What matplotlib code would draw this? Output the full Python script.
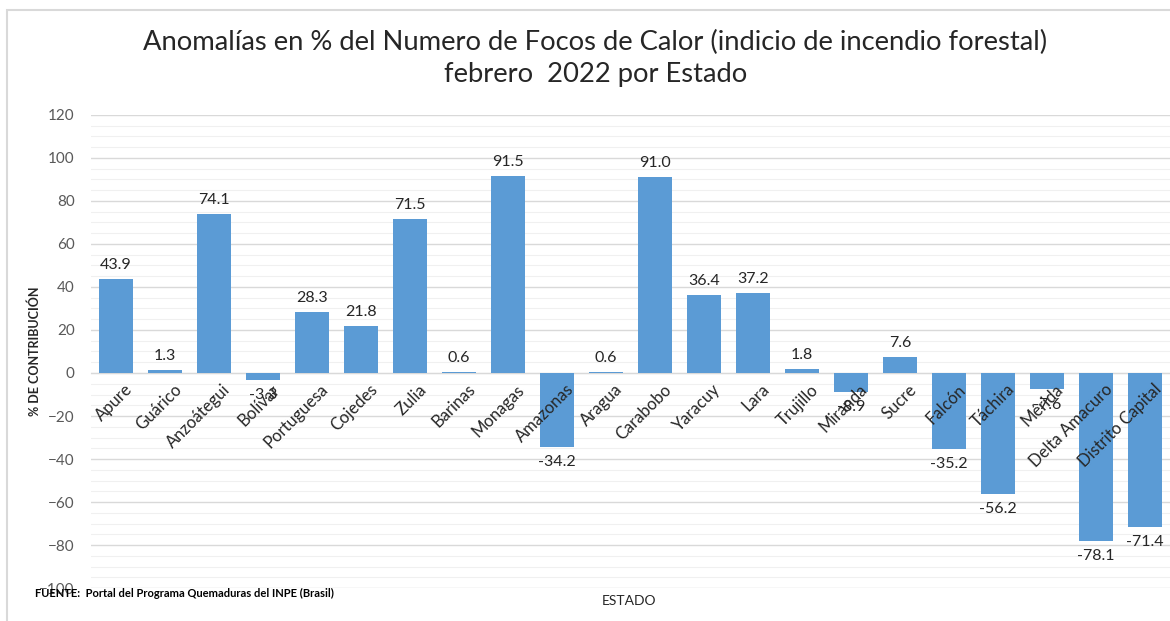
import matplotlib.pyplot as plt
from matplotlib.patches import Rectangle
from matplotlib.ticker import MultipleLocator

# Estados y anomalías (%) de focos de calor, febrero 2022
estados = ["Apure", "Guárico", "Anzoátegui", "Bolívar", "Portuguesa", "Cojedes",
           "Zulia", "Barinas", "Monagas", "Amazonas", "Aragua", "Carabobo",
           "Yaracuy", "Lara", "Trujillo", "Miranda", "Sucre", "Falcón",
           "Táchira", "Mérida", "Delta Amacuro", "Distrito Capital"]
anomalias = [43.9, 1.3, 74.1, -3.3, 28.3, 21.8, 71.5, 0.6, 91.5, -34.2, 0.6, 91.0,
             36.4, 37.2, 1.8, -8.9, 7.6, -35.2, -56.2, -7.6, -78.1, -71.4]

titulo = "Anomalías en % del Numero de Focos de Calor (indicio de incendio forestal)\nfebrero  2022 por Estado"
fuente = "FUENTE:  Portal del Programa Quemaduras del INPE (Brasil)"

plt.rcParams['font.family'] = ['Lato', 'DejaVu Sans']

fig = plt.figure(figsize=(11.7, 6.21), dpi=100)
ax = fig.add_axes([0.0782, 0.053, 0.9214, 0.762])

x = list(range(len(estados)))
ax.bar(x, anomalias, width=0.68, color="#5B9BD5", zorder=3)

# etiquetas de datos
for xi, v in zip(x, anomalias):
    if v >= 0:
        ax.annotate(f"{v:.1f}", (xi, v), xytext=(0, 5), textcoords="offset points",
                    ha="center", va="bottom", fontsize=11.5, color="#262626")
    else:
        ax.annotate(f"{v:.1f}", (xi, v), xytext=(0, -6), textcoords="offset points",
                    ha="center", va="top", fontsize=11.5, color="#262626")

# nombres de estados sobre el eje (encima de las barras)
for xi, nombre in zip(x, estados):
    ax.annotate(nombre, (xi, 0), xytext=(6, -6), textcoords="offset points",
                ha="right", va="top", rotation=45, rotation_mode="anchor",
                fontsize=12, color="#262626", zorder=5)

ax.set_ylim(-100, 120)
ax.set_xlim(-0.5, len(estados) - 0.5)
ax.yaxis.set_major_locator(MultipleLocator(20))
ax.yaxis.set_minor_locator(MultipleLocator(5))
ax.grid(axis="y", which="major", color="#d9d9d9", linewidth=1, zorder=0)
ax.grid(axis="y", which="minor", color="#f0f0f0", linewidth=0.8, zorder=0)

for s in ["top", "right", "left"]:
    ax.spines[s].set_visible(False)
ax.spines["bottom"].set_position(("data", 0))
ax.spines["bottom"].set_color("#d9d9d9")

ax.set_xticks(x)
ax.set_xticklabels([])
ax.tick_params(axis="x", length=0)
ax.tick_params(axis="y", which="both", length=0, pad=12, labelsize=11, labelcolor="#595959")

ax.set_ylabel("% DE CONTRIBUCIÓN", fontsize=9, fontweight="bold", color="#262626")
ax.yaxis.set_label_coords(-0.047, 0.5)

fig.text(0.509, 0.906, titulo, ha="center", va="center", fontsize=19.7, color="#262626",
         linespacing=1.37)
fig.text(0.538, 0.033, "ESTADO", ha="center", va="center", fontsize=10, color="#262626")
fig.text(0.03, 0.045, fuente, ha="left", va="center", fontsize=8, fontweight="bold",
         color="#000000")

# borde del gráfico
fig.add_artist(Rectangle((7 / 1170, -0.1), 1.5, 1 - 10 / 621 + 0.1, transform=fig.transFigure,
                         fill=False, edgecolor="#d9d9d9", linewidth=1.5))

fig.savefig("out.png", dpi=100)
